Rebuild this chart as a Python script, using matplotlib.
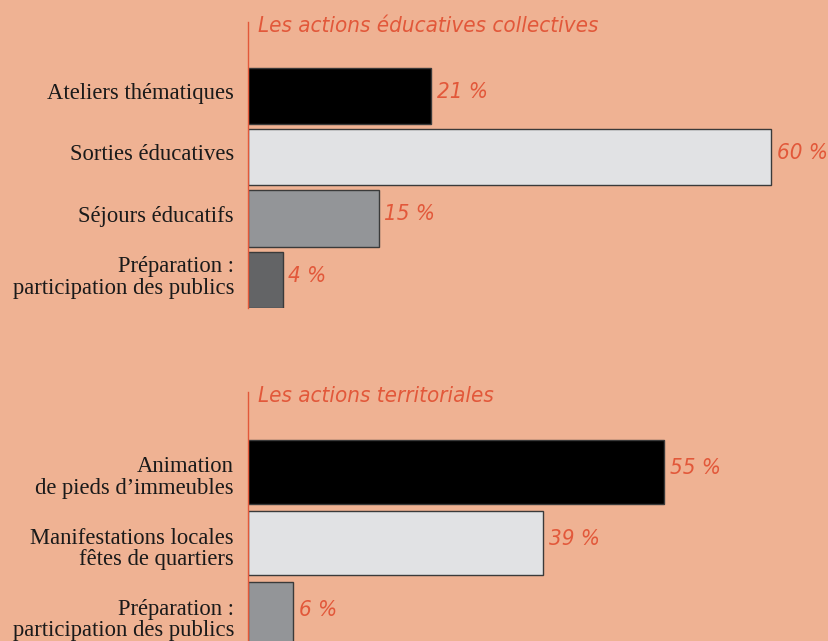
import matplotlib.pyplot as plt
import matplotlib.transforms as mtransforms

# données
titre_1 = "Les actions éducatives collectives"
labels_1 = ["Ateliers thématiques", "Sorties éducatives", "Séjours éducatifs",
            "Préparation :\nparticipation des publics"]
valeurs_1 = [21, 60, 15, 4]

titre_2 = "Les actions territoriales"
labels_2 = ["Animation\nde pieds d’immeubles", "Manifestations locales\nfêtes de quartiers",
            "Préparation :\nparticipation des publics"]
valeurs_2 = [55, 39, 6]

fond = "#EFB293"
orange = "#E2583A"
couleurs_1 = ["#000000", "#E1E2E4", "#939598", "#636466"]
couleurs_2 = ["#000000", "#E1E2E4", "#939598"]

W, H = 829, 641
fig = plt.figure(figsize=(W / 100, H / 100), dpi=100)
fig.patch.set_facecolor(fond)


def px_axes(x0, y0, x1, y1):
    return fig.add_axes([x0 / W, 1 - y1 / H, (x1 - x0) / W, (y1 - y0) / H])


def bloc(ax, titre, labels, valeurs, couleurs, px_pct, centre0, pas, y_top, y_bot,
         haut, dy_lab):
    ax.set_facecolor(fond)
    ax.set_xlim(0, (W - 248) / px_pct)
    ax.set_ylim((y_bot - centre0) / pas, -(centre0 - y_top) / pas)
    pos = list(range(len(valeurs)))
    ax.barh(pos, valeurs, height=haut, color=couleurs, edgecolor="#3a3a3a",
            linewidth=1.0)
    for s in ["top", "right", "bottom"]:
        ax.spines[s].set_visible(False)
    ax.spines["left"].set_color(orange)
    ax.spines["left"].set_linewidth(1.0)
    ax.set_xticks([])
    ax.set_yticks(pos)
    ax.set_yticklabels(labels, fontsize=16.3, family="Liberation Serif",
                       color="#1a1a1a", linespacing=1.05)
    ax.tick_params(axis="y", length=0, pad=10)
    off = mtransforms.ScaledTranslation(0, dy_lab / 100, fig.dpi_scale_trans)
    for t in ax.get_yticklabels():
        t.set_transform(t.get_transform() + off)
    for p, v in zip(pos, valeurs):
        ax.annotate(f"{v} %", (v, p), xytext=(4, 3), textcoords="offset points",
                    va="center", ha="left", fontsize=16, color=orange,
                    family="DejaVu Sans", style="italic", stretch="condensed",
                    weight="light")
    ax.annotate(titre, (0, 1), xycoords="axes fraction", xytext=(7, -3),
                textcoords="offset points", fontsize=16, color=orange,
                family="DejaVu Sans", style="italic", stretch="condensed",
                va="center", ha="left", annotation_clip=False)


ax1 = px_axes(248, 22, W, 308)
bloc(ax1, titre_1, labels_1, valeurs_1, couleurs_1, 8.72, 96, 61.3, 22, 308, 0.92, 5)

ax2 = px_axes(248, 392, W, H)
bloc(ax2, titre_2, labels_2, valeurs_2, couleurs_2, 7.57, 472, 71, 392, H, 0.9, -3)

fig.savefig("out.png", dpi=100, facecolor=fond)
